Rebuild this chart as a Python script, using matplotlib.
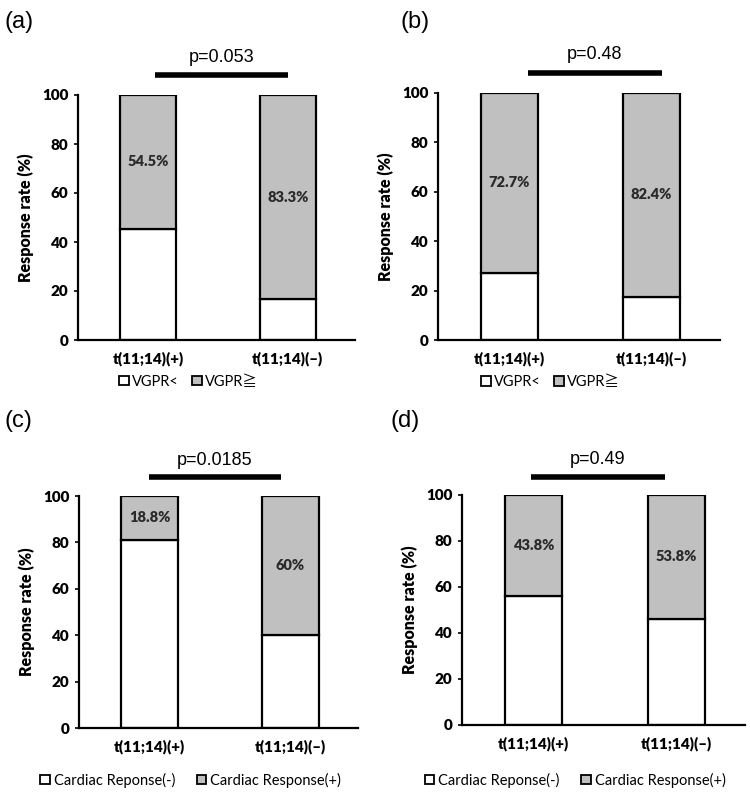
import matplotlib
matplotlib.use("Agg")
import matplotlib.pyplot as plt
from matplotlib.patches import Patch

# data
groups = ["t(11;14)(+)", "t(11;14)(\u2013)"]
panel_tags = ["(a)", "(b)", "(c)", "(d)"]
p_values = ["p=0.053", "p=0.48", "p=0.0185", "p=0.49"]
resp_pos = [[54.5, 83.3], [72.7, 82.4], [18.8, 60.0], [43.8, 53.8]]   # grey part
pct_text = [["54.5%", "83.3%"], ["72.7%", "82.4%"], ["18.8%", "60%"], ["43.8%", "53.8%"]]
legend_vgpr = ["VGPR<", "VGPR\u2267"]
legend_card = ["Cardiac Reponse(-)", "Cardiac Response(+)"]
y_ticks = [0, 20, 40, 60, 80, 100]

bold_fam = ["Lato", "Noto Sans CJK JP", "DejaVu Sans"]
plain_fam = ["Liberation Sans", "DejaVu Sans"]
grey = "#c0c0c0"

plt.rcParams["font.family"] = bold_fam
plt.rcParams["font.weight"] = "bold"
plt.rcParams["axes.labelweight"] = "bold"

fig = plt.figure(figsize=(7.5, 7.93), dpi=100)
W, H = 750.0, 793.0

# panel layout in pixels: left, right, bottom, top, p-line x span, legend y
layout = [
    (78, 355, 340, 95, (0.05, 1.0), -0.17),
    (438, 720, 340, 93, (0.13, 1.07), -0.17),
    (79, 358, 728, 496, (0.0, 0.93), -0.225),
    (462, 745, 725, 495, (-0.02, 0.92), -0.24),
]
tag_xy = [(5, 22), (400, 22), (5, 421), (390, 421)]

for i in range(4):
    l, r, b, t, pspan, leg_y = layout[i]
    ax = fig.add_axes([l / W, 1 - b / H, (r - l) / W, (b - t) / H])
    pos = resp_pos[i]
    neg = [100 - v for v in pos]
    x = list(range(len(groups)))
    ax.bar(x, neg, width=0.4, color="white", edgecolor="black", linewidth=1.6)
    ax.bar(x, pos, width=0.4, bottom=neg, color=grey, edgecolor="black", linewidth=1.6)
    for xi, n, p, s in zip(x, neg, pos, pct_text[i]):
        ax.text(xi, n + p / 2, s, ha="center", va="center", fontsize=10.5,
                fontweight="heavy", color="#2a2a2a")
    ax.set_xlim(-0.5, 1.48)
    ax.set_ylim(0, 100)
    ax.set_yticks(y_ticks)
    ax.set_xticks(x)
    ax.set_xticklabels(groups, fontsize=11, fontweight="heavy")
    ax.set_yticklabels([str(v) for v in y_ticks], fontsize=11, fontweight="heavy")
    ax.tick_params(axis="x", length=0, pad=8)
    ax.tick_params(axis="y", length=3, width=1.2, pad=4)
    ax.set_ylabel("Response rate (%)", fontsize=11.5, fontweight="heavy", labelpad=6)
    for s in ["top", "right"]:
        ax.spines[s].set_visible(False)
    for s in ["left", "bottom"]:
        ax.spines[s].set_linewidth(1.6)

    # p value bar above the plot
    ax.plot(pspan, [108, 108], color="black", linewidth=4, clip_on=False, solid_capstyle="butt")
    ax.text((pspan[0] + pspan[1]) / 2, 115.5, p_values[i], ha="center", va="center",
            fontsize=13, family=plain_fam, fontweight="normal")

    labels = legend_vgpr if i < 2 else legend_card
    colsp = 0.9 if i < 2 else 1.5
    handles = [Patch(facecolor="white", edgecolor="black", linewidth=1.3, label=labels[0]),
               Patch(facecolor=grey, edgecolor="black", linewidth=1.3, label=labels[1])]
    ax.legend(handles=handles, loc="center", bbox_to_anchor=(0.4, leg_y), ncol=2, frameon=False,
              handlelength=0.65, handleheight=0.65, handletextpad=0.25, columnspacing=colsp,
              prop={"family": bold_fam, "size": 10.5, "weight": "normal"})

    fig.text(tag_xy[i][0] / W, 1 - tag_xy[i][1] / H, panel_tags[i], fontsize=17,
             family=plain_fam, fontweight="normal", va="center", ha="left")

fig.savefig("out.png", dpi=100, facecolor="white")
